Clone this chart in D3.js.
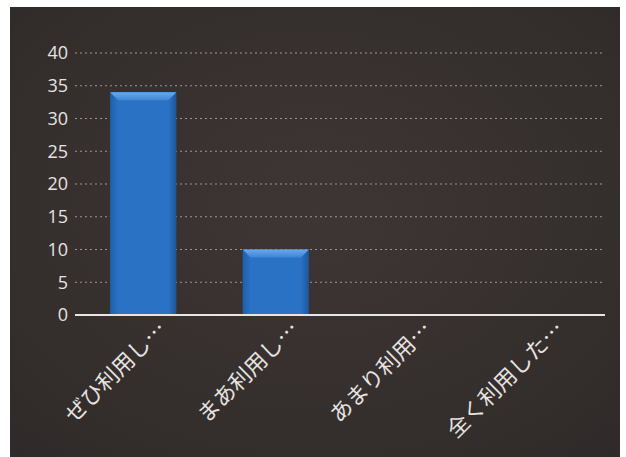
<!DOCTYPE html>
<html><head><meta charset="utf-8">
<script src="https://cdn.jsdelivr.net/npm/d3@7"></script>
<style>
html,body{margin:0;padding:0;background:#fff;}
svg{display:block;}
</style></head>
<body>
<svg id="c" width="626" height="457"></svg>
<script>
const categories = ["ぜひ利用し…", "まあ利用し…", "あまり利用…", "全く利用した…"];
const values = [34, 10, 0, 0];
const yTicks = [0, 5, 10, 15, 20, 25, 30, 35, 40];

const svg = d3.select("#c");
const defs = svg.append("defs");
const bgGrad = defs.append("radialGradient").attr("id","bg").attr("cx","50%").attr("cy","45%").attr("r","75%");
bgGrad.append("stop").attr("offset","0%").attr("stop-color","#3e3634");
bgGrad.append("stop").attr("offset","100%").attr("stop-color","#2f2a29");
const barGrad = defs.append("linearGradient").attr("id","bar").attr("x1","0").attr("x2","1").attr("y1","0").attr("y2","0");
barGrad.append("stop").attr("offset","0%").attr("stop-color","#1f5fa8");
barGrad.append("stop").attr("offset","12%").attr("stop-color","#2a72c4");
barGrad.append("stop").attr("offset","88%").attr("stop-color","#2a72c4");
barGrad.append("stop").attr("offset","100%").attr("stop-color","#1d5699");
const topGrad = defs.append("linearGradient").attr("id","bartop").attr("x1","0").attr("x2","0").attr("y1","0").attr("y2","1");
topGrad.append("stop").attr("offset","0%").attr("stop-color","#6aa8ea");
topGrad.append("stop").attr("offset","100%").attr("stop-color","#3d86d6");

svg.append("rect").attr("x",10).attr("y",7).attr("width",610).attr("height",450).attr("fill","url(#bg)");

const x = d3.scaleBand().domain(categories).range([77, 607]).paddingInner(0.5).paddingOuter(0.25);
const y = d3.scaleLinear().domain([0, 40]).range([315, 53]);

// gridlines
svg.append("g").selectAll("line").data(yTicks.filter(d => d > 0)).join("line")
  .attr("x1", 75).attr("x2", 605)
  .attr("y1", d => y(d)).attr("y2", d => y(d))
  .attr("stroke", "#b5b0ad").attr("stroke-width", 1.2)
  .attr("stroke-dasharray", "2,3").attr("opacity", 0.8);

// y axis labels
const yAxis = d3.axisLeft(y).tickValues(yTicks).tickSize(0).tickPadding(0);
const gy = svg.append("g").attr("transform", "translate(68,0)").call(yAxis);
gy.select(".domain").remove();
gy.selectAll("text").attr("fill", "#e6e3e1").attr("font-size", "18px")
  .attr("font-family", "'Open Sans', 'Noto Sans', sans-serif");

// bars
const bw = x.bandwidth();
const bars = svg.append("g").selectAll("g").data(categories.map((c,i)=>({c, v: values[i]})).filter(d => d.v > 0)).join("g");
bars.append("rect")
  .attr("x", d => x(d.c)).attr("y", d => y(d.v))
  .attr("width", bw).attr("height", d => y(0) - y(d.v))
  .attr("fill", "url(#bar)");
bars.append("path")
  .attr("d", d => {
    const x0 = x(d.c), y0 = y(d.v), b = 8;
    return `M${x0},${y0}L${x0+bw},${y0}L${x0+bw-b},${y0+b}L${x0+b},${y0+b}Z`;
  })
  .attr("fill", "url(#bartop)");

// x axis line
svg.append("line").attr("x1", 75).attr("x2", 605).attr("y1", y(0)).attr("y2", y(0))
  .attr("stroke", "#e8e6e4").attr("stroke-width", 2);

// x labels
const xAxis = d3.axisBottom(x).tickSize(0).tickPadding(0);
const gx = svg.append("g").attr("transform", `translate(0,${y(0)})`).call(xAxis);
gx.select(".domain").remove();
gx.selectAll("text")
  .attr("fill", "#e6e3e1").attr("font-size", "22px")
  .attr("font-family", "'Noto Sans CJK JP', sans-serif")
  .attr("text-anchor", "end")
  .attr("dy", "0.35em")
  .attr("transform", "translate(19,10) rotate(-45)");
</script>
</body></html>
